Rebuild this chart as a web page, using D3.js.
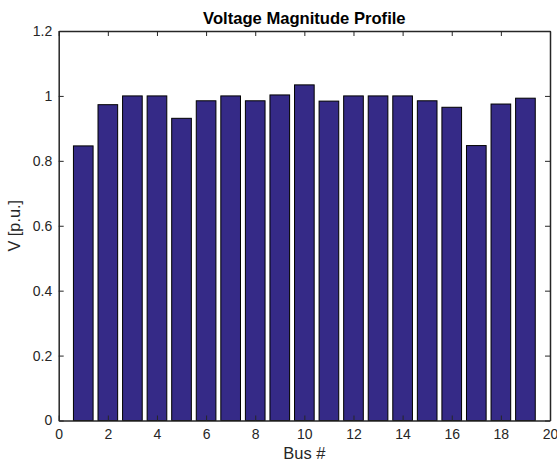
<!DOCTYPE html>
<html>
<head>
<meta charset="utf-8">
<script src="https://cdn.jsdelivr.net/npm/d3@7"></script>
<style>
  body { margin: 0; background: #fff; }
  svg text { font-family: "Liberation Sans", Arial, Helvetica, sans-serif; fill: #262626; }
</style>
</head>
<body>
<div class="chart"></div>
<script>
// data
const buses = d3.range(1, 20);
const voltages = [0.846, 0.973, 1.0, 1.0, 0.931, 0.985, 1.0, 0.985, 1.003, 1.034,
                  0.984, 1.0, 1.0, 1.0, 0.985, 0.965, 0.847, 0.975, 0.993];
const xTicks = d3.range(0, 21, 2);
const yTicks = [0, 0.2, 0.4, 0.6, 0.8, 1, 1.2];

let margin = { top: 31, right: 7, bottom: 45.5, left: 58.7 },
    width = 557 - margin.left - margin.right,
    height = 466 - margin.top - margin.bottom;

let svg = d3.select(".chart")
    .append("svg")
    .attr("width", 557)
    .attr("height", 466)
    .append("g")
    .attr("transform", `translate(${margin.left},${margin.top})`);

let xScale = d3.scaleLinear().domain([0, 20]).range([0, width]);
let yScale = d3.scaleLinear().domain([0, 1.2]).range([height, 0]);

// bars, width 0.8 like matlab
let bw = xScale(0.8) - xScale(0);
svg.selectAll(".bar")
    .data(buses)
    .enter()
    .append("rect")
    .attr("class", "bar")
    .attr("x", (d) => xScale(d) - bw / 2)
    .attr("width", bw)
    .attr("y", (d, i) => yScale(voltages[i]))
    .attr("height", (d, i) => yScale(0) - yScale(voltages[i]))
    .attr("fill", "#352a87")
    .attr("stroke", "#000")
    .attr("stroke-width", 1);

// axes with inward ticks, box on
let fmt = (d) => d3.format("")(d);
let xAxis = d3.axisBottom(xScale).tickValues(xTicks).tickSizeInner(-5).tickSizeOuter(0).tickPadding(9).tickFormat(fmt);
let xTop = d3.axisTop(xScale).tickValues(xTicks).tickSizeInner(-5).tickSizeOuter(0).tickFormat("");
let yAxis = d3.axisLeft(yScale).tickValues(yTicks).tickSizeInner(-5).tickSizeOuter(0).tickPadding(6.5).tickFormat(fmt);
let yRight = d3.axisRight(yScale).tickValues(yTicks).tickSizeInner(-5).tickSizeOuter(0).tickFormat("");

let gx = svg.append("g").attr("transform", `translate(0,${height})`).call(xAxis);
let gxt = svg.append("g").call(xTop);
let gy = svg.append("g").call(yAxis);
let gyr = svg.append("g").attr("transform", `translate(${width},0)`).call(yRight);

[gx, gxt, gy, gyr].forEach((g) => {
    g.selectAll("path").attr("stroke", "#262626").attr("stroke-width", 1.5);
    g.selectAll("line").attr("stroke", "#262626").attr("stroke-width", 1);
    g.selectAll("text").attr("font-size", 14).style("fill", "#262626")
        .style("font-family", '"Liberation Sans", Arial, sans-serif');
});

// labels
svg.append("text")
    .attr("x", width / 2)
    .attr("y", -7)
    .attr("text-anchor", "middle")
    .attr("font-size", 16.6)
    .attr("font-weight", "bold")
    .style("fill", "#000")
    .text("Voltage Magnitude Profile");

svg.append("text")
    .attr("x", width / 2)
    .attr("y", height + 38)
    .attr("text-anchor", "middle")
    .attr("font-size", 16.5)
    .text("Bus #");

svg.append("text")
    .attr("transform", `translate(${-38.7},${height / 2}) rotate(-90)`)
    .attr("text-anchor", "middle")
    .attr("font-size", 16.3)
    .text("V [p.u.]");
</script>
</body>
</html>
